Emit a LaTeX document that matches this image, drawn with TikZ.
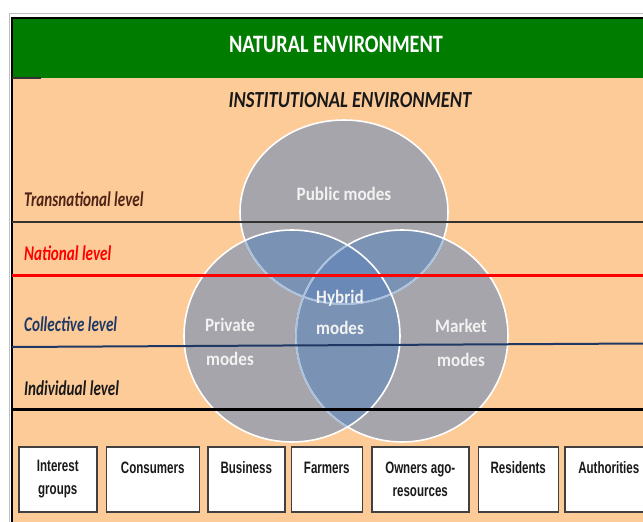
\documentclass[tikz,border=0pt]{standalone}
\usepackage{fontspec}
\setmainfont{Carlito}
\newfontfamily\titlefont[FakeStretch=0.81]{Carlito}
\newfontfamily\levelfont[FakeStretch=0.72]{Carlito}
\newfontfamily\modefont[FakeStretch=0.9]{Carlito}
\newfontfamily\actorfont[FakeStretch=0.7]{Liberation Sans}
\usepackage{xcolor}
\usepackage{tikz}
\usetikzlibrary{positioning}
\definecolor{envgreen}{HTML}{007C00}
\definecolor{peach}{HTML}{FDCB98}
\definecolor{modegray}{HTML}{A5A5AB}
\definecolor{pairblue}{HTML}{7A93B5}
\definecolor{coreblue}{HTML}{6A89B6}
\definecolor{rimblue}{HTML}{A9C1DE}
\definecolor{transcol}{HTML}{4F2316}
\definecolor{collcol}{HTML}{1F3864}
\definecolor{boxline}{HTML}{404040}
\newcommand{\pubpath}{(344,212) ellipse [x radius=104pt, y radius=92pt]}
\newcommand{\privpath}{(292,336) ellipse [x radius=108pt, y radius=106pt]}
\newcommand{\markpath}{(402,336) ellipse [x radius=106pt, y radius=106pt]}

\begin{document}
\begin{tikzpicture}[
  x=1pt, y=-1pt,
  level/.style={anchor=base west, inner sep=0pt, font=\levelfont\fontsize{21}{24}\selectfont\bfseries\itshape},
  mode/.style={align=center, text=white!95!black, font=\modefont\fontsize{19}{34}\selectfont\bfseries},
  actor/.style={draw=boxline, line width=1.5pt, fill=white, align=center, inner sep=2pt,
                minimum height=65pt, text=black!90,
                font=\actorfont\fontsize{16.5}{23}\selectfont\bfseries},
  rim/.style={line width=1.6pt},
  divider/.style={line width=2pt}
]
\useasboundingbox (0,0) rectangle (643,522);

% ===== frame and environments =====
\fill[white] (0,0) rectangle (643,522);
\draw[black!25, line width=1pt] (9,522) -- (9,13) -- (643,13);
\fill[peach] (12,78) rectangle (643,522);
\fill[envgreen] (12,18) rectangle (643,78);
\draw[line width=1.5pt] (12,522) -- (12,18) -- (643,18);
\draw[black!80, line width=2pt] (12,78) -- (41,78);

\node[text=white, font=\titlefont\fontsize{25}{28}\selectfont\bfseries] (natural) at (336,44) {NATURAL ENVIRONMENT};
\node[text=black!90, font=\titlefont\fontsize{23}{26}\selectfont\bfseries\itshape] (institutional) at (350,100) {INSTITUTIONAL ENVIRONMENT};

% ===== governance modes (venn) =====
\fill[modegray] \pubpath;
\fill[modegray] \privpath;
\fill[modegray] \markpath;
\begin{scope}
  \clip \pubpath;
  \fill[pairblue] \privpath;
  \fill[pairblue] \markpath;
\end{scope}
\begin{scope}
  \clip \privpath;
  \fill[pairblue] \markpath;
\end{scope}
\begin{scope}
  \clip \pubpath;
  \clip \privpath;
  \fill[coreblue] \markpath;
\end{scope}

% rims
\draw[rim, white] \pubpath;
\begin{scope}
  \clip \markpath;
  \draw[rim, rimblue] \pubpath;
\end{scope}
\draw[rim, white] \markpath;
\begin{scope}
  \clip \privpath;
  \draw[rim, rimblue] \pubpath;
  \draw[rim, rimblue] \markpath;
\end{scope}
\draw[rim, white] \privpath;

% ===== levels =====
\draw[divider, black!80] (12,222) -- (643,222);
\draw[divider, red, line width=3pt] (12,275.5) -- (643,275.5);
\draw[divider, collcol] (12,347) -- (643,343.5);
\draw[divider, black, line width=2.5pt] (12,409.5) -- (643,409.5);

\node[level, text=transcol] (transnational) at (24,206) {Transnational level};
\node[level, text=red] (national) at (24,260) {National level};
\node[level, text=collcol] (collective) at (24,331) {Collective level};
\node[level, text=black!90] (individual) at (24,395) {Individual level};

\node[mode] (public) at (344,193.5) {Public modes};
\node[mode, font=\modefont\fontsize{19}{31}\selectfont\bfseries] (hybrid) at (340,312) {Hybrid\\modes};
\node[mode] (private) at (230,342) {Private\\modes};
\node[mode] (market) at (461,342.5) {Market\\modes};

% ===== actors =====
\node[actor, minimum width=78pt, anchor=north west] (interest) at (18,446) {Interest\\groups};
\node[actor, minimum width=93pt, right=8pt of interest] (consumers) {Consumers\\\mbox{}};
\node[actor, minimum width=77pt, right=7pt of consumers] (business) {Business\\\mbox{}};
\node[actor, minimum width=71pt, right=5pt of business] (farmers) {Farmers\\\mbox{}};
\node[actor, minimum width=97pt, right=8pt of farmers] (owners) {Owners ago-\\resources};
\node[actor, minimum width=80pt, right=8pt of owners] (residents) {Residents\\\mbox{}};
\node[actor, minimum width=88pt, right=5pt of residents] (authorities) {Authorities\\\mbox{}};

\end{tikzpicture}
\end{document}
